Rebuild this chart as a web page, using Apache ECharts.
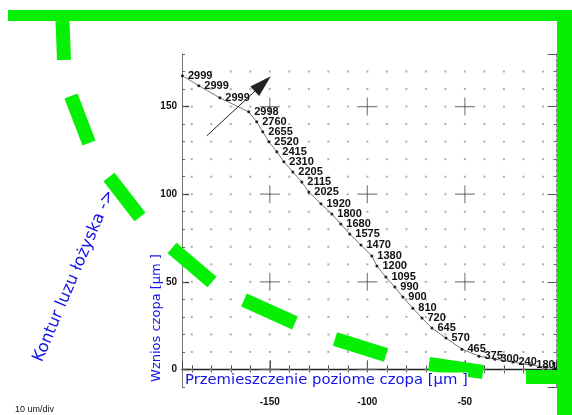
<!DOCTYPE html>
<html>
<head>
<meta charset="utf-8">
<script src="https://cdn.jsdelivr.net/npm/echarts@6/dist/echarts.min.js"></script>
<style>
  html, body { margin: 0; padding: 0; background: #fff; }
  #chart { width: 572px; height: 415px; }
</style>
</head>
<body>
<div id="chart"></div>
<script>
// Journal centre trajectory during run-down: horizontal shift (x) and lift (y), in µm,
// each point tagged with the shaft speed at which it was recorded.
const speedLabels = ['2999', '2999', '2999', '2998', '2760', '2655', '2520', '2415', '2310', '2205',
  '2115', '2025', '1920', '1800', '1680', '1575', '1470', '1380', '1200', '1095',
  '990', '900', '810', '720', '645', '570', '465', '375', '300', '240', '180', '120', ''];
const shiftX = [-194.8, -186.4, -175.6, -160.8, -156.7, -153.6, -150.5, -146.4, -142.8, -138.2,
  -133.6, -130.0, -123.8, -118.2, -113.6, -109.0, -103.3, -97.7, -95.1, -90.5,
  -85.9, -81.8, -76.7, -72.0, -66.9, -59.7, -51.5, -42.8, -34.6, -25.4, -16.2, -8.5, -3.0];
const liftY = [167.6, 161.9, 155.0, 147.0, 141.3, 135.6, 129.9, 124.2, 118.5, 112.7,
  107.0, 101.3, 94.5, 88.7, 83.0, 77.3, 71.0, 64.7, 59.0, 52.7,
  47.0, 41.3, 35.0, 29.3, 23.6, 17.9, 11.6, 7.6, 5.9, 4.2, 2.5, 1.3, 0.5];

// Direction-of-rotation arrow (start, end) in µm
const arrowFrom = [-182.3, 133.3];
const arrowTo = [-153.6, 163.0];

// Plot window and tick spacing
const xMin = -195, xMax = -3;
const yMin = -10, yMax = 180;
const majorStep = 50, minorStep = 10;

// Reference grid: dots every 10 µm, crosses every 50 µm
const gridXs = [-190, -180, -170, -160, -150, -140, -130, -120, -110, -100, -90, -80, -70, -60, -50, -40, -30, -20, -10];
const gridYs = [0, 10, 20, 30, 40, 50, 60, 70, 80, 90, 100, 110, 120, 130, 140, 150, 160, 170];
const crossXs = [-150, -100, -50];
const crossYs = [0, 50, 100, 150];

const gridDots = [];
gridXs.forEach(function (gx) { gridYs.forEach(function (gy) { gridDots.push([gx, gy]); }); });
const crosses = [];
crossXs.forEach(function (cx) { crossYs.forEach(function (cy) { crosses.push([cx, cy]); }); });
const trajectory = shiftX.map(function (x, i) { return [x, liftY[i]]; });

const GREEN = '#06f006';
const BLUE = '#1414e6';
const tickFont = { fontFamily: 'Liberation Sans', fontSize: 10, color: '#111', fontWeight: 'bold' };

function axisX(pos, step, opts) {
  return Object.assign({
    type: 'value', position: pos, min: xMin, max: xMax,
    minInterval: step, maxInterval: step,
    splitLine: { show: false },
    axisLine: { show: false },
    axisLabel: { show: false },
    axisTick: { show: true, lineStyle: { color: '#444' } }
  }, opts);
}
function axisY(pos, step, opts) {
  return Object.assign({
    type: 'value', position: pos, min: yMin, max: yMax,
    minInterval: step, maxInterval: step,
    splitLine: { show: false },
    axisLine: { show: false },
    axisLabel: { show: false },
    axisTick: { show: true, lineStyle: { color: '#444' } }
  }, opts);
}

const chart = echarts.init(document.getElementById('chart'), null, { renderer: 'canvas' });

chart.setOption({
  animation: false,
  backgroundColor: '#fff',
  grid: { left: 182, right: 15.4, top: 54, bottom: 28 },
  xAxis: [
    axisX('bottom', majorStep, {
      axisLine: { show: true, lineStyle: { color: '#555', width: 1 } },
      axisTick: { show: true, length: 6, lineStyle: { color: '#444' } },
      axisLabel: Object.assign({ show: true, margin: 10, showMinLabel: false, showMaxLabel: false }, tickFont)
    }),
    axisX('bottom', minorStep, { axisTick: { show: true, length: 4, lineStyle: { color: '#666' } } }),
    axisX('top', minorStep, {
      axisLine: { show: true, lineStyle: { color: '#222', width: 1.3 } },
      axisTick: { show: true, length: 4, lineStyle: { color: '#444' } }
    }),
    axisX('top', majorStep, { axisTick: { show: true, length: 9, lineStyle: { color: '#444' } } })
  ],
  yAxis: [
    axisY('left', majorStep, {
      axisLine: { show: true, lineStyle: { color: '#777', width: 1 } },
      axisTick: { show: true, inside: true, length: 7, lineStyle: { color: '#333', width: 1.3 } },
      axisLabel: Object.assign({ show: true, margin: 5, showMinLabel: false, showMaxLabel: false }, tickFont)
    }),
    axisY('left', minorStep, { axisTick: { show: true, inside: true, length: 3, lineStyle: { color: '#666' } } }),
    axisY('right', minorStep, {
      axisLine: { show: true, lineStyle: { color: '#888', width: 1, type: [3, 2] } },
      axisTick: { show: true, inside: true, length: 3, lineStyle: { color: '#666' } }
    }),
    axisY('right', majorStep, { axisTick: { show: true, inside: true, length: 9, lineStyle: { color: '#555' } } })
  ],
  series: [
    {
      name: 'grid dots', type: 'scatter', silent: true,
      data: gridDots, symbol: 'rect', symbolSize: 2,
      itemStyle: { color: '#9a9a9a' }, z: 1
    },
    {
      name: 'crosses', type: 'scatter', silent: true,
      data: crosses,
      symbol: 'path://M9.4,0h1.2v18h-1.2zM0,8.4h20v1.2h-20z',
      symbolSize: [20, 18], symbolKeepAspect: false,
      itemStyle: { color: '#666' }, z: 1
    },
    {
      name: 'trajectory', type: 'line',
      data: trajectory,
      symbol: 'circle', symbolSize: 3,
      lineStyle: { color: '#777', width: 1 },
      itemStyle: { color: '#222' },
      label: {
        show: true, position: 'right', distance: 4,
        fontFamily: 'Liberation Sans', fontSize: 11, fontWeight: 'bold', color: '#111',
        formatter: function (p) { return speedLabels[p.dataIndex]; }
      },
      z: 3,
      markLine: {
        silent: true,
        symbol: ['none', 'triangle'],
        symbolSize: [13, 22],
        label: { show: false },
        lineStyle: { color: '#222', width: 1, type: 'solid', curveness: 0.15 },
        data: [[{ coord: arrowFrom }, { coord: arrowTo }]]
      }
    }
  ],
  graphic: [
    // green frame
    { type: 'rect', shape: { x: 8, y: 10, width: 564, height: 11 }, style: { fill: GREEN }, z: 100 },
    { type: 'rect', shape: { x: 557, y: 10, width: 15, height: 405 }, style: { fill: GREEN }, z: 100 },
    // green dashed bearing-clearance contour
    { type: 'line', shape: { x1: 62.5, y1: 21, x2: 64, y2: 60 }, style: { stroke: GREEN, lineWidth: 14 }, z: 100 },
    { type: 'line', shape: { x1: 71, y1: 96, x2: 89, y2: 143 }, style: { stroke: GREEN, lineWidth: 14 }, z: 100 },
    { type: 'line', shape: { x1: 109, y1: 177, x2: 140, y2: 217 }, style: { stroke: GREEN, lineWidth: 14 }, z: 100 },
    { type: 'line', shape: { x1: 172, y1: 248, x2: 212, y2: 282 }, style: { stroke: GREEN, lineWidth: 14 }, z: 100 },
    { type: 'line', shape: { x1: 244, y1: 300, x2: 295, y2: 323 }, style: { stroke: GREEN, lineWidth: 14 }, z: 100 },
    { type: 'line', shape: { x1: 335, y1: 339, x2: 386, y2: 355 }, style: { stroke: GREEN, lineWidth: 14 }, z: 100 },
    { type: 'line', shape: { x1: 429, y1: 364, x2: 483, y2: 372 }, style: { stroke: GREEN, lineWidth: 14 }, z: 100 },
    { type: 'line', shape: { x1: 526, y1: 377, x2: 558, y2: 377 }, style: { stroke: GREEN, lineWidth: 14 }, z: 100 },
    // annotations
    {
      type: 'text', x: 74, y: 276, rotation: 67 * Math.PI / 180, z: 110,
      style: { text: 'Kontur luzu łożyska ->', fill: BLUE, font: '16.5px "DejaVu Sans"', textAlign: 'center', textVerticalAlign: 'middle' }
    },
    {
      type: 'text', x: 157, y: 318, rotation: Math.PI / 2, z: 110,
      style: { text: 'Wznios czopa [µm ]', fill: BLUE, font: '13px "DejaVu Sans"', textAlign: 'center', textVerticalAlign: 'middle' }
    },
    {
      type: 'text', x: 185, y: 380, z: 110,
      style: { text: 'Przemieszczenie poziome czopa [µm ]', fill: BLUE, font: '14.8px "DejaVu Sans"', textAlign: 'left', textVerticalAlign: 'middle', backgroundColor: '#fff' }
    },
    {
      type: 'text', x: 15, y: 410, z: 110,
      style: { text: '10 um/div', fill: '#111', font: '9px "Liberation Sans"', textAlign: 'left', textVerticalAlign: 'middle' }
    }
  ]
});
</script>
</body>
</html>
